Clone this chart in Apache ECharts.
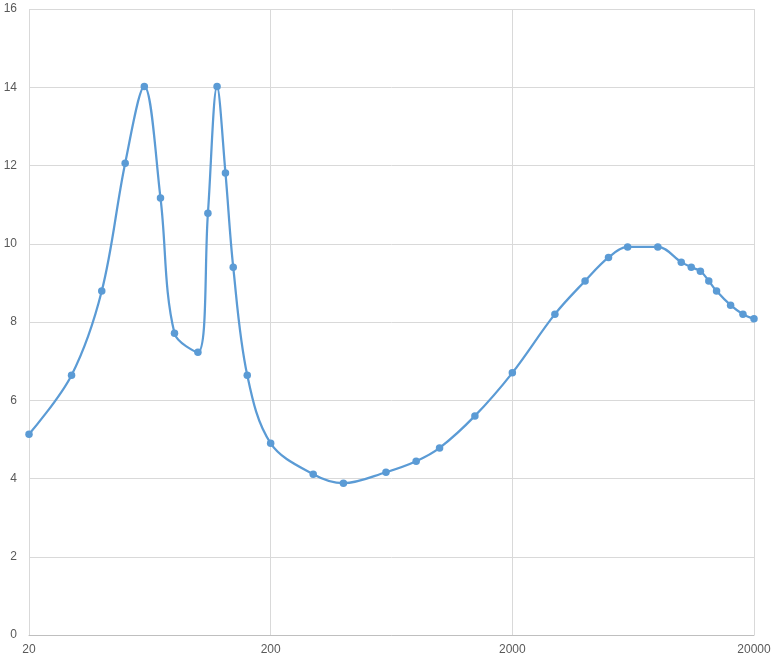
<!DOCTYPE html>
<html>
<head>
<meta charset="utf-8">
<script src="https://cdn.jsdelivr.net/npm/echarts@6/dist/echarts.min.js"></script>
<style>html,body{margin:0;padding:0;background:#fff}#c{width:779px;height:664px}</style>
</head>
<body>
<div id="c"></div>
<script>
// Frequencies (Hz) and values
const frequencies = [20, 30, 40, 50, 60, 70, 80, 100, 110, 120, 130, 140, 160, 200,
  300, 400, 600, 800, 1000, 1400, 2000, 3000, 4000, 5000, 6000, 8000,
  10000, 11000, 12000, 13000, 14000, 16000, 18000, 20000];
const values = [5.13, 6.64, 8.79, 12.06, 14.02, 11.17, 7.71, 7.23, 10.78, 14.02, 11.81, 9.40, 6.64, 4.90,
  4.11, 3.88, 4.16, 4.44, 4.78, 5.60, 6.70, 8.20, 9.05, 9.65, 9.92, 9.92,
  9.53, 9.40, 9.30, 9.05, 8.79, 8.43, 8.20, 8.08];
const xTickLabels = ['20', '200', '2000', '20000'];
const yMin = 0, yMax = 16, yStep = 2;
const xBase = 20;

// decades above the base frequency (value axis in log space)
const points = frequencies.map((f, i) => [Math.log10(f / xBase), values[i]]);

const chart = echarts.init(document.getElementById('c'), null, {renderer: 'canvas'});
const labelFont = {color: '#595959', fontSize: 12, fontFamily: 'Liberation Sans, Arial, sans-serif'};
chart.setOption({
  animation: false,
  grid: {left: 29, right: 25, top: 9, bottom: 29, containLabel: false},
  xAxis: {
    type: 'value', min: 0, max: xTickLabels.length - 1, interval: 1,
    axisLine: {show: true, lineStyle: {color: '#bfbfbf', width: 1}},
    axisTick: {show: false},
    splitLine: {show: true, lineStyle: {color: '#d9d9d9', width: 1}},
    axisLabel: Object.assign({margin: 9, formatter: v => xTickLabels[Math.round(v)] || ''}, labelFont)
  },
  yAxis: {
    type: 'value', min: yMin, max: yMax, interval: yStep,
    axisLine: {show: false}, axisTick: {show: false},
    splitLine: {show: true, lineStyle: {color: '#d9d9d9', width: 1}},
    axisLabel: Object.assign({margin: 12}, labelFont)
  },
  series: [{
    type: 'line',
    data: points,
    smooth: 0.35,
    symbol: 'circle',
    symbolSize: 7.5,
    showSymbol: true,
    lineStyle: {color: '#5B9BD5', width: 2.25},
    itemStyle: {color: '#5B9BD5', borderColor: '#5B9BD5', borderWidth: 0}
  }]
});
</script>
</body>
</html>
